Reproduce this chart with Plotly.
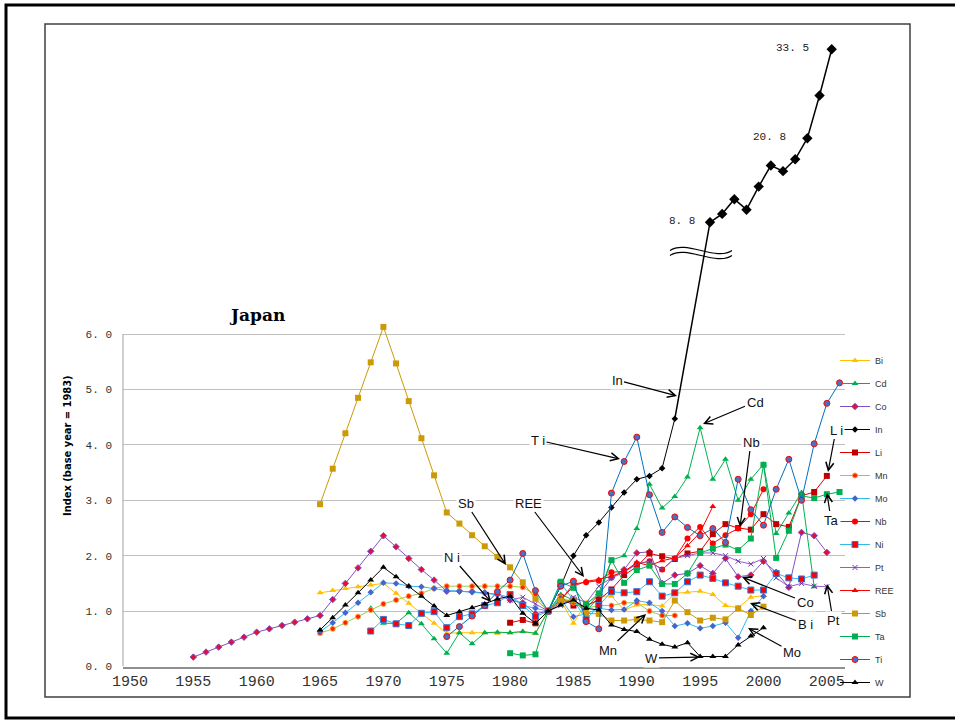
import plotly.graph_objects as go

# ---------------- data (index, base year 1983 = 1.0) ----------------
bi_years = list(range(1965, 2001))
bi_vals = [1.33, 1.37, 1.41, 1.44, 1.47, 1.50, 1.32, 1.14, 0.96, 0.78, 0.60, 0.61, 0.61, 0.61, 0.60, 0.61,
           0.63, 0.60, 1.00, 1.20, 0.78, 1.15, 1.27, 1.27, 1.02, 1.11, 1.12, 1.09, 1.32, 1.34, 1.36, 1.30,
           1.10, 1.06, 1.25, 1.28]

cd_years = list(range(1969, 2005))
cd_vals = [1.05, 0.78, 0.78, 0.97, 0.77, 0.50, 0.24, 0.61, 0.41, 0.61, 0.62, 0.61, 0.63, 0.60, 1.00, 1.30,
           1.20, 1.00, 1.25, 1.92, 2.00, 2.49, 3.29, 2.86, 3.07, 3.42, 4.31, 3.38, 3.74, 3.00, 3.38, 3.65,
           2.40, 2.77, 3.14, 1.44]

co_years = list(range(1955, 2006))
co_vals = [0.17, 0.26, 0.35, 0.44, 0.53, 0.62, 0.68, 0.74, 0.80, 0.86, 0.92, 1.21, 1.50, 1.78, 2.08, 2.36,
           2.16, 1.95, 1.75, 1.56, 1.36, 1.36, 1.35, 1.33, 1.30, 1.20, 1.15, 0.95, 1.00, 1.15, 1.20, 1.05,
           1.30, 1.60, 1.75, 2.05, 2.07, 1.50, 1.65, 1.68, 1.82, 1.68, 1.95, 1.62, 1.65, 1.90, 1.70, 1.43,
           2.42, 2.36, 2.06]

in_years = list(range(1983, 1994))
in_vals = [1.00, 1.45, 2.00, 2.37, 2.60, 2.87, 3.14, 3.38, 3.44, 3.58, 4.47]
in_hi_years = list(range(1995, 2006))
in_hi_vals = [8.8, 10.0, 12.1, 10.6, 13.9, 16.9, 16.1, 17.8, 20.8, 26.9, 33.5]

li_years = list(range(1980, 2006))
li_vals = [0.79, 0.84, 0.78, 1.00, 1.25, 1.10, 1.10, 1.20, 1.39, 1.65, 1.80, 2.04, 1.99, 1.94, 2.04, 2.08,
           2.39, 2.57, 2.50, 2.47, 2.75, 2.57, 2.52, 3.08, 3.15, 3.44]

mn_years = list(range(1965, 1994))
mn_vals = [0.60, 0.68, 0.79, 0.90, 1.02, 1.13, 1.20, 1.27, 1.32, 1.41, 1.45, 1.45, 1.45, 1.45, 1.45, 1.45,
           1.43, 1.30, 1.00, 1.25, 1.15, 1.05, 1.10, 1.10, 1.15, 1.15, 1.00, 0.92, 0.92]

mo_years = list(range(1965, 2001))
mo_vals = [0.63, 0.79, 0.97, 1.15, 1.34, 1.51, 1.50, 1.45, 1.44, 1.41, 1.37, 1.36, 1.34, 1.33, 1.30, 1.25,
           1.10, 1.05, 1.00, 1.22, 0.90, 0.95, 1.05, 1.02, 1.03, 1.19, 1.15, 1.00, 0.73, 0.78, 0.69, 0.73,
           0.79, 0.52, 1.00, 1.27]

nb_years = list(range(1983, 2001))
nb_vals = [1.00, 1.20, 1.49, 1.52, 1.55, 1.70, 1.72, 1.85, 1.90, 1.75, 1.95, 2.31, 2.52, 2.22, 2.37, 2.49,
           2.75, 3.20]

ni_years = list(range(1969, 2005))
ni_vals = [0.64, 0.85, 0.77, 0.74, 0.96, 0.99, 0.70, 0.90, 0.95, 1.10, 1.15, 1.30, 1.10, 0.90, 1.00, 1.50,
           1.20, 0.85, 1.10, 1.35, 1.33, 1.35, 1.53, 1.27, 1.33, 1.53, 1.65, 1.59, 1.51, 1.45, 1.38, 1.38,
           1.68, 1.60, 1.58, 1.65]

pt_years = list(range(1980, 2006))
pt_vals = [1.20, 1.25, 1.13, 1.00, 1.10, 1.25, 1.15, 1.45, 1.60, 1.70, 1.85, 1.90, 1.75, 1.95, 2.00, 2.05,
           2.05, 2.00, 1.90, 1.85, 1.95, 1.60, 1.44, 1.50, 1.45, 1.44]

ree_years = list(range(1983, 1997))
ree_vals = [1.00, 1.20, 1.45, 1.54, 1.57, 1.63, 1.71, 1.88, 1.82, 1.91, 1.96, 2.18, 2.42, 2.89]

sb_years = list(range(1965, 2001))
sb_vals = [2.93, 3.57, 4.21, 4.85, 5.49, 6.13, 5.47, 4.79, 4.12, 3.45, 2.78, 2.58, 2.37, 2.17, 1.98, 1.79,
           1.52, 1.22, 1.00, 1.19, 1.20, 0.96, 0.95, 0.83, 0.83, 0.85, 0.83, 0.80, 1.19, 0.98, 0.83, 0.88,
           0.85, 1.05, 0.93, 1.08]

ta_years = list(range(1980, 2007))
ta_vals = [0.24, 0.20, 0.22, 1.00, 1.53, 1.42, 1.12, 1.32, 1.92, 1.51, 1.74, 1.82, 1.49, 1.49, 1.68, 2.05,
           2.13, 2.20, 2.10, 2.31, 3.64, 1.96, 2.45, 3.08, 3.04, 3.11, 3.15]

ti_years = list(range(1975, 2007))
ti_vals = [0.54, 0.72, 0.91, 1.10, 1.35, 1.56, 2.04, 1.37, 1.00, 1.45, 1.54, 0.81, 0.68, 3.13, 3.70, 4.14,
           3.10, 2.42, 2.70, 2.51, 2.36, 2.49, 2.24, 3.38, 2.83, 2.55, 3.20, 3.74, 3.00, 4.02, 4.75, 5.12]

w_years = list(range(1965, 2001))
w_vals = [0.66, 0.88, 1.11, 1.33, 1.56, 1.79, 1.62, 1.45, 1.27, 1.09, 0.92, 0.99, 1.06, 1.13, 1.22, 1.27,
          0.96, 0.78, 1.00, 1.11, 1.20, 1.05, 1.02, 0.75, 0.67, 0.63, 0.49, 0.40, 0.35, 0.43, 0.18, 0.18,
          0.18, 0.39, 0.55, 0.70]

y_ticks = [0, 1, 2, 3, 4, 5, 6]
y_ticktext = ["0. 0", "1. 0", "2. 0", "3. 0", "4. 0", "5. 0", "6. 0"]
x_ticks = list(range(1950, 2006, 5))

# ---------------- layout geometry (pixels) ----------------
W, H = 955, 720
PX_L, PX_R = 123, 845          # lower plot area, horizontal
PY_0, PY_TOP = 666.5, 300      # pixel of value 0, top of lower axis domain
X_PX1950, X_PX_PER_YEAR = 130, 12.67
Y_PX_PER_UNIT = 55.4
# upper (In) inset scale
UX_PX_REF, UX_YEAR_REF, UX_PX_PER_YEAR = 710, 1995, 12.17
UY_PX_REF, UY_VAL_REF, UY_PX_PER_UNIT = 222.3, 8.8, 7.004

x_range = [1950 + (PX_L - X_PX1950) / X_PX_PER_YEAR, 1950 + (PX_R - X_PX1950) / X_PX_PER_YEAR]
y_range = [0, (PY_0 - PY_TOP) / Y_PX_PER_UNIT]
x2_range = [UX_YEAR_REF - UX_PX_REF / UX_PX_PER_YEAR, UX_YEAR_REF + (W - UX_PX_REF) / UX_PX_PER_YEAR]
y2_range = [UY_VAL_REF - (H - UY_PX_REF) / UY_PX_PER_UNIT, UY_VAL_REF + UY_PX_REF / UY_PX_PER_UNIT]


def lower_px(year, val):
    return (X_PX1950 + (year - 1950) * X_PX_PER_YEAR, PY_0 - val * Y_PX_PER_UNIT)


def upper_px(year, val):
    return (UX_PX_REF + (year - UX_YEAR_REF) * UX_PX_PER_YEAR, UY_PX_REF - (val - UY_VAL_REF) * UY_PX_PER_UNIT)


def px_to_data(px, py):
    return (1950 + (px - X_PX1950) / X_PX_PER_YEAR, (PY_0 - py) / Y_PX_PER_UNIT)


fig = go.Figure()

series = [
    ("Bi", bi_years, bi_vals, "#FFC000", dict(symbol="triangle-up", color="#FFC000", size=6)),
    ("Cd", cd_years, cd_vals, "#00B050", dict(symbol="triangle-up", color="#00B050", size=6)),
    ("Co", co_years, co_vals, "#8050C0", dict(symbol="diamond", color="#E0103A", size=5,
                                               line=dict(color="#8050C0", width=1))),
    ("In", in_years, in_vals, "#000000", dict(symbol="diamond", color="#000000", size=5)),
    ("Li", li_years, li_vals, "#E00000", dict(symbol="square", color="#C00000", size=6)),
    ("Mn", mn_years, mn_vals, "#92D050", dict(symbol="circle", color="#FF2000", size=5,
                                               line=dict(color="#FFA040", width=1))),
    ("Mo", mo_years, mo_vals, "#33BBEE", dict(symbol="diamond", color="#4466CC", size=5)),
    ("Nb", nb_years, nb_vals, "#FF0000", dict(symbol="circle", color="#FF0000", size=6)),
    ("Ni", ni_years, ni_vals, "#33BBEE", dict(symbol="square", color="#FF0000", size=6,
                                               line=dict(color="#3377DD", width=1))),
    ("Pt", pt_years, pt_vals, "#9060C8", dict(symbol="x-thin", color="#7030A0", size=5,
                                               line=dict(color="#7030A0", width=1))),
    ("REE", ree_years, ree_vals, "#FF0000", dict(symbol="triangle-up", color="#FF0000", size=6)),
    ("Sb", sb_years, sb_vals, "#CC9A06", dict(symbol="square", color="#CC9A06", size=6)),
    ("Ta", ta_years, ta_vals, "#00B050", dict(symbol="square", color="#00B050", size=6)),
    ("Ti", ti_years, ti_vals, "#0070C0", dict(symbol="circle", color="#4472C4", size=6,
                                               line=dict(color="#FF0000", width=1))),
    ("W", w_years, w_vals, "#000000", dict(symbol="triangle-up", color="#000000", size=6)),
]

for name, xs, ys, lc, mk in series:
    fig.add_trace(go.Scatter(x=xs, y=ys, name=name, mode="lines+markers",
                             line=dict(color=lc, width=1), marker=mk,
                             legendgroup=name, cliponaxis=False))
    if name == "In":
        fig.add_trace(go.Scatter(x=in_hi_years, y=in_hi_vals, name="In", mode="lines+markers",
                                 xaxis="x2", yaxis="y2", showlegend=False, legendgroup="In",
                                 line=dict(color="#000000", width=1.5),
                                 marker=dict(symbol="diamond", color="#000000", size=8)))

annotations = []

# connector of the In series between the lower scale and the upper inset
tail = lower_px(in_years[-1], in_vals[-1])
head = upper_px(in_hi_years[0], in_hi_vals[0])
annotations.append(dict(x=in_hi_years[0], y=in_hi_vals[0], xref="x2", yref="y2", text="",
                        showarrow=True, arrowhead=0, arrowwidth=1.5, arrowcolor="#000000",
                        ax=tail[0] - head[0], ay=tail[1] - head[1], standoff=0, startstandoff=0))

# value labels on the inset
for yr, v, lab, sh in [(2005, 33.5, "33. 5", -21), (2003, 20.8, "20. 8", -19), (1995, 8.8, "8. 8", -13)]:
    annotations.append(dict(x=yr, y=v, xref="x2", yref="y2", text=lab, showarrow=False,
                            xanchor="right", xshift=sh, yshift=1,
                            font=dict(family="Liberation Mono", size=11, color="#222222")))

# element labels with arrows: (text, text pixel pos, arrow head pixel pos)
arrow_labels = [
    ("Sb", (466, 503), (506, 565)),
    ("REE", (528, 503), (584, 577)),
    ("N i", (452, 557), (491, 602)),
    ("T i", (538, 440), (620, 459)),
    ("In", (617, 380), (677, 396)),
    ("Cd", (755, 402), (703, 424)),
    ("Nb", (751, 442), (740, 527)),
    ("L i", (836, 430), (828, 472)),
    ("Ta", (831, 520), (827, 493)),
    ("Co", (805, 602), (742, 577)),
    ("B i", (805, 624), (750, 603)),
    ("Pt", (833, 620), (827, 584)),
    ("Mo", (792, 652), (748, 628)),
    ("Mn", (608, 650), (646, 614)),
    ("W", (651, 658), (700, 657)),
]
for txt, tpos, hpos in arrow_labels:
    tx, ty = px_to_data(*tpos)
    hx, hy = px_to_data(*hpos)
    annotations.append(dict(x=hx, y=hy, xref="x", yref="y", ax=tx, ay=ty, axref="x", ayref="y",
                            text=txt, showarrow=True, arrowhead=5, arrowsize=1.3, arrowwidth=1.2,
                            arrowcolor="#000000", bgcolor="#FFFFFF", borderpad=1,
                            font=dict(family="Liberation Sans", size=13, color="#111111")))

# title and axis title
annotations.append(dict(x=257 / W, y=1 - 315 / H, xref="paper", yref="paper", text="<b>Japan</b>",
                        xanchor="center", yanchor="middle", showarrow=False,
                        font=dict(family="DejaVu Serif", size=17, color="#000000")))
annotations.append(dict(x=67 / W, y=1 - 446 / H, xref="paper", yref="paper",
                        text="<b>Index (base year = 1983)</b>", textangle=-90, showarrow=False,
                        xanchor="center", yanchor="middle",
                        font=dict(family="Liberation Sans Narrow, DejaVu Sans Condensed", size=11,
                                  color="#000000")))

shapes = []
# frames
shapes.append(dict(type="rect", xref="paper", yref="paper", x0=6 / W, x1=1.01, y0=1 - 718 / H, y1=1 - 5 / H,
                   line=dict(color="#000000", width=3)))
shapes.append(dict(type="rect", xref="paper", yref="paper", x0=45 / W, x1=910 / W, y0=1 - 697 / H,
                   y1=1 - 24 / H, line=dict(color="#404040", width=1.5)))
# vertical value axis line (0 .. 6)
shapes.append(dict(type="line", xref="paper", yref="y", x0=PX_L / W, x1=PX_L / W, y0=0, y1=6,
                   line=dict(color="#A0A0A0", width=1)))


# scale-break symbol on the In line
def wave(dy):
    pts = [(670, 253 + dy), (686, 242 + dy), (716, 264 + dy), (732, 253 + dy)]
    p = [(x / W, 1 - y / H) for x, y in pts]
    return "M {},{} C {},{} {},{} {},{}".format(*[c for q in p for c in q])


for dy in (-2.5, 2.5):
    shapes.append(dict(type="path", xref="paper", yref="paper", path=wave(dy),
                       line=dict(color="#000000", width=1.1)))

fig.update_layout(
    width=W, height=H, margin=dict(l=0, r=0, t=0, b=0, autoexpand=False),
    paper_bgcolor="#FFFFFF", plot_bgcolor="rgba(0,0,0,0)",
    showlegend=True,
    legend=dict(x=835 / W, y=1 - 346 / H, xanchor="left", yanchor="top", bgcolor="rgba(0,0,0,0)",
                font=dict(family="Liberation Sans", size=9, color="#333333"),
                tracegroupgap=4, itemwidth=30),
    xaxis=dict(domain=[PX_L / W, PX_R / W], range=x_range, tickvals=x_ticks, showgrid=False,
               zeroline=False, showline=True, linecolor="#909090", linewidth=1.5, ticks="",
               tickfont=dict(family="Liberation Mono", size=15, color="#333333"), anchor="y"),
    yaxis=dict(domain=[(H - PY_0) / H, (H - PY_TOP) / H], range=y_range, tickvals=y_ticks,
               ticktext=y_ticktext, showgrid=True, gridcolor="#C0C0C0", gridwidth=1, zeroline=False,
               showline=False, ticks="", ticklabelstandoff=10,
               tickfont=dict(family="Liberation Mono", size=11, color="#333333"), anchor="x"),
    xaxis2=dict(domain=[0, 1], range=x2_range, visible=False, anchor="y2"),
    yaxis2=dict(domain=[0, 1], range=y2_range, visible=False, anchor="x2"),
    annotations=annotations, shapes=shapes,
)

fig.write_html("out.html", config={"displayModeBar": False},
               post_script="document.body.style.margin='0px';")
